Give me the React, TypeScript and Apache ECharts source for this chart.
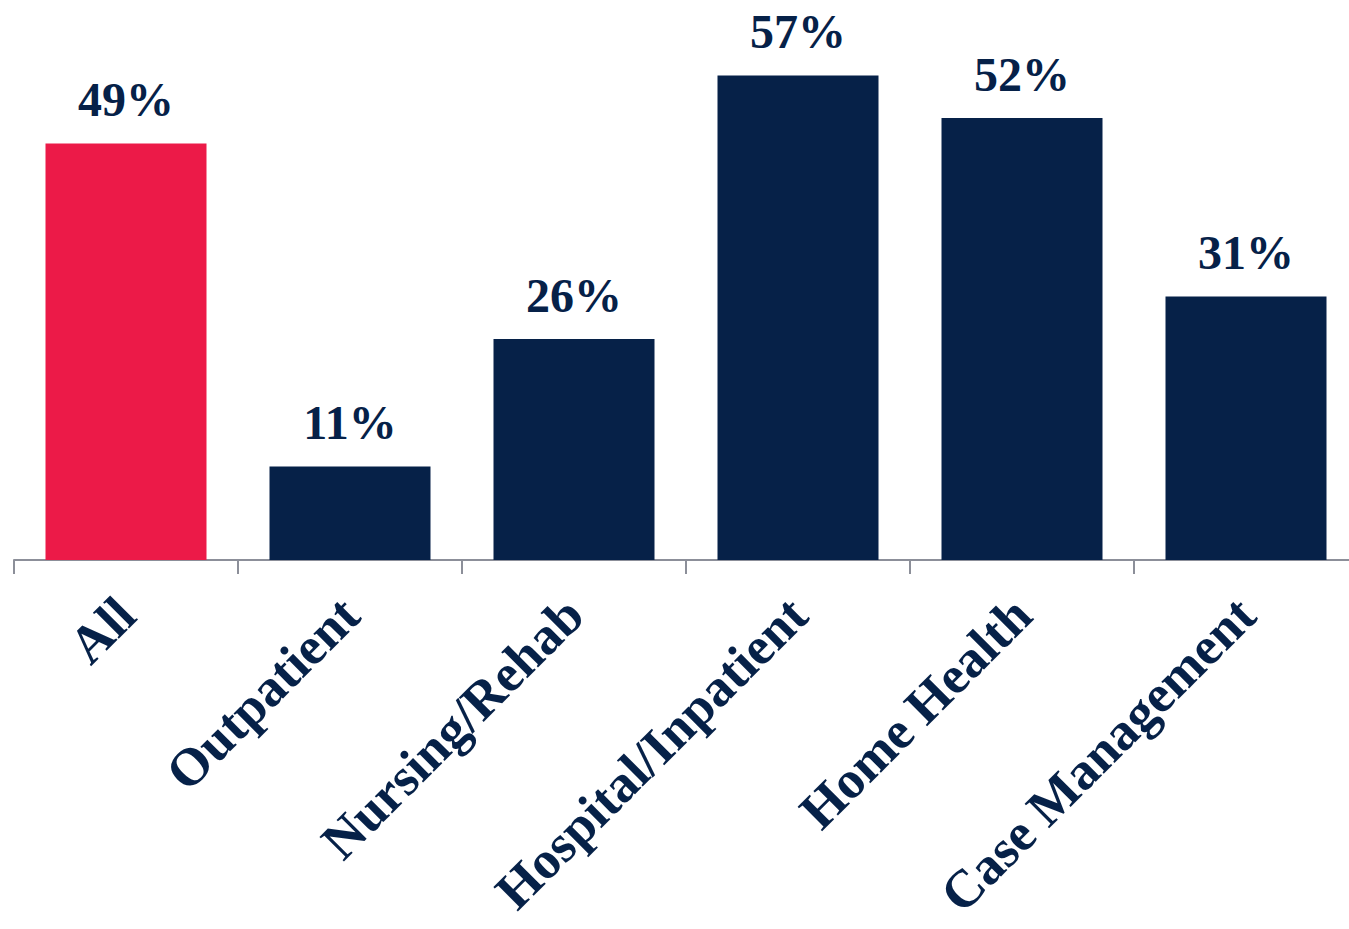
import React, { useEffect, useRef } from "react";
import * as echarts from "echarts";

const categories = ["All", "Outpatient", "Nursing/Rehab", "Hospital/Inpatient", "Home Health", "Case Management"];
const values = [49, 11, 26, 57, 52, 31];
const highlightIndex = 0;

const NAVY = "#062148";
const RED = "#EC1A48";
const FONT = "'Liberation Serif', 'Times New Roman', serif";

export default function App() {
  const ref = useRef<HTMLDivElement>(null);
  useEffect(() => {
    if (!ref.current) return;
    const chart = echarts.init(ref.current, undefined, { renderer: "svg" });
    chart.setOption({
      animation: false,
      grid: { left: 14, top: 50, right: 0, bottom: 369, containLabel: false },
      xAxis: {
        type: "category",
        data: categories,
        axisLine: { lineStyle: { color: "#8c8f99", width: 2 } },
        axisTick: { show: true, length: 14, lineStyle: { color: "#8c8f99", width: 2 }, alignWithLabel: false },
        axisLabel: {
          rotate: 45,
          interval: 0,
          margin: 46,
          color: NAVY,
          fontFamily: FONT,
          fontWeight: "bold",
          fontSize: 53,
        },
      },
      yAxis: {
        type: "value",
        min: 0,
        max: 60,
        show: false,
        splitLine: { show: false },
      },
      series: [
        {
          type: "bar",
          barWidth: 161,
          data: values.map((v, i) => ({
            value: v,
            itemStyle: { color: i === highlightIndex ? RED : NAVY },
          })),
          label: {
            show: true,
            position: "top",
            distance: 20,
            formatter: "{c}%",
            color: NAVY,
            fontFamily: FONT,
            fontWeight: "bold",
            fontSize: 48,
          },
        },
      ],
    });
    return () => chart.dispose();
  }, []);
  return (
    <div style={{ position: "absolute", left: 0, top: 0, width: 1349, height: 929, overflow: "hidden" }}>
      <div ref={ref} style={{ position: "absolute", left: 0, top: 0, width: 1358, height: 929 }} />
    </div>
  );
}
